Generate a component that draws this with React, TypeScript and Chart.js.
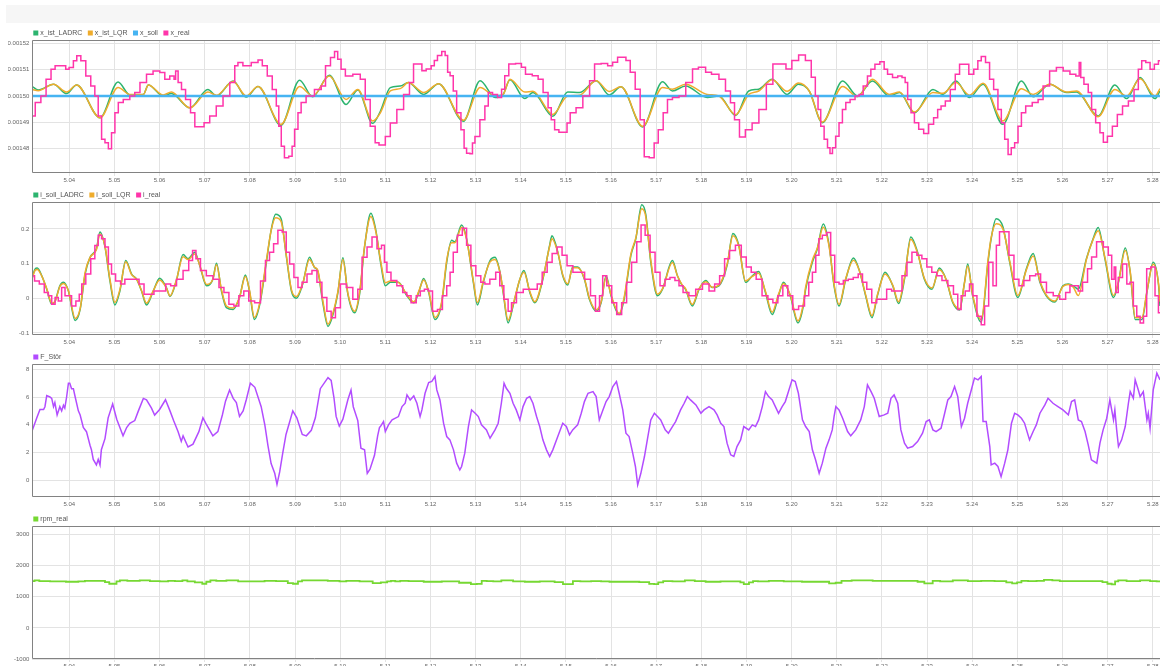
import { useEffect, useRef } from 'react';
import { Chart, registerables } from 'chart.js';

Chart.register(...registerables);

const FONT = '"Liberation Sans", Arial, Helvetica, sans-serif';
Chart.defaults.font.family = FONT;

// Time window shown on every panel (seconds)
const tStart = 5.0318;
const tEnd = 5.2816;

// Axis tick values
const timeTicks = [5.04, 5.05, 5.06, 5.07, 5.08, 5.09, 5.1, 5.11, 5.12, 5.13, 5.14, 5.15, 5.16, 5.17, 5.18, 5.19, 5.2, 5.21, 5.22, 5.23, 5.24, 5.25, 5.26, 5.27, 5.28];
const posTicks = [0.00148, 0.00149, 0.0015, 0.00151, 0.00152];
const currentTicks = [-0.1, 0, 0.1, 0.2];
const forceTicks = [0, 2, 4, 6, 8];
const rpmTicks = [-1000, 0, 1000, 2000, 3000];

// [t, x_ist_LADRC, x_ist_LQR]
const xIst: [number, number, number][] = [
  [5.0318, 0.0015036, 0.0015025], [5.0331, 0.0015023, 0.0015020], [5.0365, 0.0015045, 0.0015045], [5.0394, 0.0015009, 0.0015015],
  [5.0416, 0.0015042, 0.0015042], [5.0468, 0.0014917, 0.0014917], [5.0508, 0.0015053, 0.0015032], [5.0534, 0.0015004, 0.0015006],
  [5.0564, 0.0015006, 0.0015006], [5.0575, 0.0015042, 0.0015042], [5.0608, 0.0015000, 0.0015004], [5.0626, 0.0015009, 0.0015015],
  [5.0667, 0.0014955, 0.0014955], [5.0707, 0.0015025, 0.0015015], [5.0726, 0.0015000, 0.0015003], [5.0763, 0.0015057, 0.0015055],
  [5.0792, 0.0014996, 0.0015000], [5.0818, 0.0015036, 0.0015036], [5.0869, 0.0014888, 0.0014892], [5.0910, 0.0015060, 0.0015036],
  [5.0939, 0.0014997, 0.0015000], [5.0976, 0.0015079, 0.0015076], [5.1013, 0.0014968, 0.0014987], [5.1039, 0.0015023, 0.0015025],
  [5.1072, 0.0014896, 0.0014905], [5.1089, 0.0014942, 0.0014936], [5.1111, 0.0015032, 0.0015019], [5.1133, 0.0015038, 0.0015028],
  [5.1151, 0.0015051, 0.0015051], [5.1185, 0.0015006, 0.0015013], [5.1218, 0.0015047, 0.0015047], [5.1273, 0.0014904, 0.0014908],
  [5.1310, 0.0015058, 0.0015032], [5.1343, 0.0014994, 0.0015000], [5.1361, 0.0015006, 0.0015006], [5.1376, 0.0015062, 0.0015064],
  [5.1409, 0.0014990, 0.0015015], [5.1427, 0.0015013, 0.0015018], [5.1471, 0.0014923, 0.0014930], [5.1504, 0.0015015, 0.0015000],
  [5.1530, 0.0015013, 0.0015003], [5.1567, 0.0015058, 0.0015058], [5.1596, 0.0015004, 0.0015017], [5.1622, 0.0015035, 0.0015035],
  [5.1670, 0.0014882, 0.0014885], [5.1714, 0.0015054, 0.0015032], [5.1736, 0.0015019, 0.0015026], [5.1765, 0.0015038, 0.0015045],
  [5.1813, 0.0014994, 0.0015006], [5.1839, 0.0015000, 0.0015000], [5.1876, 0.0014926, 0.0014929], [5.1905, 0.0015019, 0.0015006],
  [5.1927, 0.0015026, 0.0015019], [5.1957, 0.0015064, 0.0015062], [5.1990, 0.0015006, 0.0015018], [5.2015, 0.0015045, 0.0015049],
  [5.2039, 0.0015019, 0.0015019], [5.2068, 0.0014898, 0.0014901], [5.2113, 0.0015057, 0.0015036], [5.2146, 0.0015000, 0.0014997],
  [5.2179, 0.0015057, 0.0015064], [5.2216, 0.0015000, 0.0015006], [5.2239, 0.0015013, 0.0015015], [5.2272, 0.0014936, 0.0014939],
  [5.2313, 0.0015025, 0.0015013], [5.2335, 0.0015006, 0.0015010], [5.2364, 0.0015057, 0.0015051], [5.2394, 0.0014994, 0.0015003],
  [5.2424, 0.0015045, 0.0015048], [5.2468, 0.0014892, 0.0014905], [5.2509, 0.0015057, 0.0015028], [5.2535, 0.0014997, 0.0015006],
  [5.2572, 0.0015045, 0.0015045], [5.2609, 0.0015013, 0.0015015], [5.2631, 0.0015015, 0.0015019], [5.2679, 0.0014924, 0.0014921],
  [5.2716, 0.0015042, 0.0015025], [5.2742, 0.0014990, 0.0015000], [5.2772, 0.0015070, 0.0015066], [5.2805, 0.0014990, 0.0015000],
  [5.2816, 0.0015019, 0.0015028],
];

const xSoll: [number, number][] = [[5.0318, 0.0015], [5.2816, 0.0015]];

const xReal: [number, number][] = [
  [5.0318, 0.0014924], [5.0331, 0.0014975], [5.0343, 0.0015000], [5.0354, 0.0015064], [5.0365, 0.0015102], [5.0372, 0.0015115],
  [5.0390, 0.0015115], [5.0394, 0.0015102], [5.0405, 0.0015108], [5.0413, 0.0015134], [5.0420, 0.0015153], [5.0431, 0.0015134],
  [5.0442, 0.0015076], [5.0453, 0.0015038], [5.0460, 0.0015000], [5.0468, 0.0014924], [5.0475, 0.0014835], [5.0483, 0.0014822],
  [5.0490, 0.0014799], [5.0497, 0.0014860], [5.0505, 0.0014936], [5.0512, 0.0014975], [5.0527, 0.0014987], [5.0541, 0.0015000],
  [5.0549, 0.0015013], [5.0564, 0.0015051], [5.0578, 0.0015083], [5.0593, 0.0015095], [5.0608, 0.0015089], [5.0615, 0.0015064],
  [5.0630, 0.0015076], [5.0634, 0.0015064], [5.0637, 0.0015095], [5.0645, 0.0015051], [5.0652, 0.0015025], [5.0663, 0.0014987],
  [5.0674, 0.0014936], [5.0682, 0.0014883], [5.0693, 0.0014883], [5.0704, 0.0014898], [5.0718, 0.0014924], [5.0733, 0.0014962],
  [5.0748, 0.0015000], [5.0763, 0.0015051], [5.0770, 0.0015115], [5.0777, 0.0015127], [5.0792, 0.0015115], [5.0814, 0.0015127],
  [5.0822, 0.0015137], [5.0833, 0.0015115], [5.0844, 0.0015076], [5.0855, 0.0015025], [5.0862, 0.0014962], [5.0866, 0.0014885],
  [5.0873, 0.0014809], [5.0880, 0.0014765], [5.0892, 0.0014771], [5.0895, 0.0014809], [5.0903, 0.0014873], [5.0910, 0.0014936],
  [5.0917, 0.0014975], [5.0932, 0.0015000], [5.0954, 0.0015025], [5.0962, 0.0015038], [5.0973, 0.0015115], [5.0984, 0.0015146],
  [5.0991, 0.0015169], [5.0998, 0.0015140], [5.1006, 0.0015102], [5.1017, 0.0015076], [5.1039, 0.0015083], [5.1050, 0.0015064],
  [5.1061, 0.0014987], [5.1072, 0.0014885], [5.1083, 0.0014822], [5.1089, 0.0014814], [5.1096, 0.0014814], [5.1104, 0.0014846],
  [5.1118, 0.0014897], [5.1133, 0.0014949], [5.1148, 0.0015006], [5.1159, 0.0015051], [5.1166, 0.0015122], [5.1177, 0.0015122],
  [5.1185, 0.0015096], [5.1196, 0.0015103], [5.1207, 0.0015115], [5.1210, 0.0015135], [5.1221, 0.0015154], [5.1229, 0.0015169],
  [5.1236, 0.0015154], [5.1240, 0.0015090], [5.1247, 0.0015077], [5.1254, 0.0015019], [5.1262, 0.0014936], [5.1273, 0.0014872],
  [5.1276, 0.0014801], [5.1284, 0.0014782], [5.1291, 0.0014780], [5.1295, 0.0014821], [5.1302, 0.0014846], [5.1317, 0.0014910],
  [5.1324, 0.0014962], [5.1332, 0.0015013], [5.1343, 0.0015006], [5.1354, 0.0014994], [5.1361, 0.0015026], [5.1368, 0.0015077],
  [5.1379, 0.0015122], [5.1398, 0.0015124], [5.1405, 0.0015109], [5.1416, 0.0015083], [5.1435, 0.0015077], [5.1442, 0.0015064],
  [5.1457, 0.0015013], [5.1464, 0.0014955], [5.1471, 0.0014910], [5.1479, 0.0014872], [5.1490, 0.0014862], [5.1501, 0.0014862],
  [5.1504, 0.0014897], [5.1515, 0.0014936], [5.1530, 0.0014955], [5.1545, 0.0015000], [5.1560, 0.0015058], [5.1567, 0.0015122],
  [5.1589, 0.0015124], [5.1596, 0.0015115], [5.1611, 0.0015128], [5.1618, 0.0015147], [5.1629, 0.0015147], [5.1637, 0.0015135],
  [5.1648, 0.0015090], [5.1659, 0.0015026], [5.1670, 0.0014910], [5.1677, 0.0014769], [5.1692, 0.0014765], [5.1699, 0.0014821],
  [5.1710, 0.0014872], [5.1721, 0.0014936], [5.1729, 0.0014987], [5.1743, 0.0014994], [5.1758, 0.0015000], [5.1773, 0.0015051],
  [5.1788, 0.0015103], [5.1799, 0.0015109], [5.1806, 0.0015109], [5.1813, 0.0015090], [5.1832, 0.0015083], [5.1846, 0.0015064],
  [5.1861, 0.0015019], [5.1868, 0.0014974], [5.1879, 0.0014910], [5.1890, 0.0014844], [5.1905, 0.0014872], [5.1920, 0.0014897],
  [5.1935, 0.0014949], [5.1953, 0.0015045], [5.1964, 0.0015122], [5.1982, 0.0015122], [5.1993, 0.0015103], [5.2008, 0.0015135],
  [5.2023, 0.0015156], [5.2038, 0.0015135], [5.2049, 0.0015071], [5.2056, 0.0015000], [5.2061, 0.0014949], [5.2068, 0.0014885],
  [5.2076, 0.0014835], [5.2083, 0.0014803], [5.2087, 0.0014781], [5.2094, 0.0014803], [5.2101, 0.0014847], [5.2109, 0.0014898],
  [5.2116, 0.0014949], [5.2124, 0.0014975], [5.2135, 0.0014987], [5.2146, 0.0015000], [5.2153, 0.0015006], [5.2164, 0.0015038],
  [5.2172, 0.0015076], [5.2179, 0.0015102], [5.2190, 0.0015121], [5.2201, 0.0015130], [5.2209, 0.0015102], [5.2216, 0.0015083],
  [5.2231, 0.0015070], [5.2239, 0.0015076], [5.2250, 0.0015070], [5.2253, 0.0015051], [5.2261, 0.0014987], [5.2268, 0.0014936],
  [5.2276, 0.0014898], [5.2287, 0.0014873], [5.2298, 0.0014857], [5.2309, 0.0014892], [5.2320, 0.0014917], [5.2327, 0.0014949],
  [5.2335, 0.0014962], [5.2346, 0.0014981], [5.2357, 0.0015025], [5.2368, 0.0015083], [5.2376, 0.0015121], [5.2387, 0.0015121],
  [5.2398, 0.0015083], [5.2409, 0.0015102], [5.2416, 0.0015134], [5.2424, 0.0015150], [5.2435, 0.0015127], [5.2442, 0.0015064],
  [5.2453, 0.0015025], [5.2461, 0.0014949], [5.2468, 0.0014898], [5.2476, 0.0014835], [5.2483, 0.0014777], [5.2490, 0.0014803],
  [5.2498, 0.0014822], [5.2505, 0.0014885], [5.2513, 0.0014936], [5.2524, 0.0014962], [5.2542, 0.0014975], [5.2550, 0.0014987],
  [5.2564, 0.0015038], [5.2579, 0.0015095], [5.2594, 0.0015108], [5.2609, 0.0015095], [5.2624, 0.0015083], [5.2635, 0.0015076],
  [5.2639, 0.0015127], [5.2642, 0.0015070], [5.2653, 0.0015045], [5.2661, 0.0015013], [5.2668, 0.0014949], [5.2679, 0.0014898],
  [5.2687, 0.0014860], [5.2694, 0.0014824], [5.2705, 0.0014847], [5.2716, 0.0014885], [5.2727, 0.0014930], [5.2739, 0.0014962],
  [5.2753, 0.0014981], [5.2764, 0.0015025], [5.2772, 0.0015102], [5.2779, 0.0015134], [5.2790, 0.0015127], [5.2798, 0.0015102],
  [5.2809, 0.0015121], [5.2816, 0.0015134],
];

// [t, i_soll_LADRC, i_soll_LQR]
const iSoll: [number, number, number][] = [
  [5.0318, 0.060, 0.058], [5.0324, 0.084, 0.080], [5.0329, 0.087, 0.083], [5.0339, 0.065, 0.064], [5.0350, 0.026, 0.028],
  [5.0361, -0.017, -0.014], [5.0368, -0.010, -0.010], [5.0379, 0.036, 0.034], [5.0387, 0.046, 0.043], [5.0398, 0.021, 0.022],
  [5.0413, -0.064, -0.058], [5.0424, -0.032, -0.030], [5.0435, 0.070, 0.075], [5.0446, 0.118, 0.118], [5.0460, 0.143, 0.140],
  [5.0468, 0.191, 0.185], [5.0479, 0.148, 0.150], [5.0490, 0.050, 0.055], [5.0501, -0.019, -0.012], [5.0512, 0.021, 0.025],
  [5.0525, 0.109, 0.105], [5.0538, 0.070, 0.068], [5.0549, 0.055, 0.055], [5.0560, 0.021, 0.022], [5.0571, -0.019, -0.014],
  [5.0586, 0.021, 0.022], [5.0600, 0.058, 0.053], [5.0615, 0.031, 0.030], [5.0623, 0.005, 0.007], [5.0637, 0.050, 0.052],
  [5.0652, 0.126, 0.120], [5.0663, 0.114, 0.112], [5.0678, 0.133, 0.128], [5.0689, 0.094, 0.095], [5.0704, 0.036, 0.040],
  [5.0718, 0.055, 0.055], [5.0726, 0.101, 0.097], [5.0737, 0.021, 0.025], [5.0748, -0.027, -0.022], [5.0763, -0.032, -0.028],
  [5.0777, 0.002, 0.003], [5.0790, 0.067, 0.063], [5.0799, 0.021, 0.024], [5.0810, -0.061, -0.055], [5.0822, -0.017, -0.012],
  [5.0836, 0.099, 0.105], [5.0847, 0.196, 0.195], [5.0857, 0.242, 0.232], [5.0869, 0.230, 0.222], [5.0880, 0.128, 0.130],
  [5.0892, 0.021, 0.025], [5.0903, 0.000, 0.005], [5.0917, 0.041, 0.043], [5.0932, 0.118, 0.112], [5.0943, 0.089, 0.090],
  [5.0950, 0.080, 0.082], [5.0962, -0.017, -0.010], [5.0973, -0.081, -0.075], [5.0984, -0.047, -0.042], [5.0995, 0.017, 0.020],
  [5.1006, 0.117, 0.112], [5.1017, 0.012, 0.015], [5.1032, -0.042, -0.037], [5.1043, 0.012, 0.018], [5.1054, 0.148, 0.150],
  [5.1068, 0.245, 0.236], [5.1079, 0.196, 0.192], [5.1090, 0.099, 0.105], [5.1100, 0.036, 0.045], [5.1111, 0.046, 0.050],
  [5.1129, 0.046, 0.046], [5.1148, 0.007, 0.010], [5.1163, -0.013, -0.010], [5.1174, 0.017, 0.020], [5.1185, 0.057, 0.053],
  [5.1196, 0.017, 0.020], [5.1210, -0.061, -0.055], [5.1225, -0.013, -0.008], [5.1236, 0.104, 0.110], [5.1247, 0.167, 0.160],
  [5.1254, 0.163, 0.160], [5.1269, 0.211, 0.205], [5.1280, 0.172, 0.170], [5.1295, 0.046, 0.050], [5.1304, -0.019, -0.012],
  [5.1317, 0.046, 0.050], [5.1332, 0.109, 0.105], [5.1343, 0.118, 0.112], [5.1354, 0.075, 0.075], [5.1361, 0.017, 0.020],
  [5.1372, -0.071, -0.063], [5.1383, -0.022, -0.018], [5.1398, 0.055, 0.055], [5.1407, 0.080, 0.075], [5.1420, 0.017, 0.020],
  [5.1431, -0.013, -0.010], [5.1449, 0.055, 0.058], [5.1464, 0.153, 0.150], [5.1469, 0.180, 0.172], [5.1482, 0.133, 0.133],
  [5.1493, 0.065, 0.068], [5.1504, 0.038, 0.042], [5.1515, 0.090, 0.088], [5.1526, 0.090, 0.088], [5.1541, 0.055, 0.057],
  [5.1552, -0.003, 0.000], [5.1567, -0.037, -0.033], [5.1578, -0.013, -0.010], [5.1589, 0.065, 0.060], [5.1600, 0.007, 0.010],
  [5.1618, -0.047, -0.043], [5.1629, -0.003, 0.003], [5.1644, 0.124, 0.128], [5.1655, 0.172, 0.175], [5.1668, 0.270, 0.258],
  [5.1677, 0.241, 0.235], [5.1688, 0.104, 0.110], [5.1703, 0.007, 0.012], [5.1714, 0.026, 0.028], [5.1736, 0.109, 0.103],
  [5.1747, 0.065, 0.065], [5.1758, 0.036, 0.038], [5.1765, 0.026, 0.028], [5.1780, -0.022, -0.018], [5.1795, 0.026, 0.028],
  [5.1810, 0.051, 0.048], [5.1824, 0.031, 0.032], [5.1839, 0.036, 0.038], [5.1857, 0.094, 0.098], [5.1870, 0.187, 0.180],
  [5.1883, 0.153, 0.150], [5.1898, 0.046, 0.050], [5.1913, 0.065, 0.063], [5.1927, 0.077, 0.072], [5.1942, 0.017, 0.020],
  [5.1957, -0.047, -0.040], [5.1971, 0.007, 0.012], [5.1982, 0.046, 0.043], [5.1997, 0.007, 0.010], [5.2014, -0.071, -0.065],
  [5.2026, -0.022, -0.015], [5.2031, 0.026, 0.032], [5.2046, 0.104, 0.110], [5.2057, 0.143, 0.145], [5.2070, 0.214, 0.205],
  [5.2083, 0.153, 0.150], [5.2094, 0.036, 0.040], [5.2105, -0.022, -0.018], [5.2120, 0.055, 0.058], [5.2137, 0.116, 0.110],
  [5.2150, 0.080, 0.080], [5.2164, 0.007, 0.010], [5.2178, -0.056, -0.050], [5.2190, 0.007, 0.010], [5.2207, 0.075, 0.070],
  [5.2224, 0.036, 0.038], [5.2237, -0.015, -0.010], [5.2250, 0.055, 0.060], [5.2264, 0.177, 0.170], [5.2279, 0.133, 0.130],
  [5.2294, 0.055, 0.058], [5.2311, 0.026, 0.030], [5.2327, 0.087, 0.082], [5.2342, 0.055, 0.055], [5.2357, -0.013, -0.010],
  [5.2372, -0.034, -0.030], [5.2383, 0.046, 0.045], [5.2390, 0.099, 0.093], [5.2401, 0.007, 0.010], [5.2420, -0.069, -0.062],
  [5.2435, 0.104, 0.110], [5.2442, 0.172, 0.175], [5.2453, 0.229, 0.215], [5.2468, 0.206, 0.200], [5.2483, 0.104, 0.108],
  [5.2501, 0.002, 0.008], [5.2520, 0.085, 0.082], [5.2535, 0.129, 0.122], [5.2550, 0.046, 0.050], [5.2564, 0.007, 0.010],
  [5.2583, -0.011, -0.008], [5.2601, 0.036, 0.034], [5.2613, 0.041, 0.040], [5.2624, 0.036, 0.032], [5.2635, 0.026, 0.008],
  [5.2653, 0.114, 0.112], [5.2668, 0.172, 0.170], [5.2679, 0.204, 0.195], [5.2694, 0.114, 0.118], [5.2713, 0.002, 0.008],
  [5.2724, 0.046, 0.048], [5.2739, 0.145, 0.138], [5.2750, 0.075, 0.078], [5.2761, -0.061, -0.055], [5.2776, -0.061, -0.055],
  [5.2787, 0.017, 0.020], [5.2801, 0.104, 0.098], [5.2813, 0.036, 0.040], [5.2816, -0.022, -0.010],
];

const iReal: [number, number][] = [
  [5.0318, 0.065], [5.0328, 0.050], [5.0339, 0.041], [5.0350, 0.017], [5.0357, 0.007], [5.0365, -0.017], [5.0372, 0.002],
  [5.0379, -0.008], [5.0387, 0.031], [5.0394, 0.007], [5.0401, 0.007], [5.0409, -0.022], [5.0420, -0.008], [5.0424, 0.012],
  [5.0431, 0.041], [5.0442, 0.070], [5.0453, 0.114], [5.0460, 0.152], [5.0468, 0.182], [5.0475, 0.172], [5.0483, 0.148],
  [5.0490, 0.099], [5.0497, 0.070], [5.0508, 0.050], [5.0519, 0.041], [5.0527, 0.055], [5.0549, 0.055], [5.0560, 0.041],
  [5.0571, 0.012], [5.0582, 0.012], [5.0593, 0.021], [5.0608, 0.021], [5.0619, 0.041], [5.0630, 0.036], [5.0645, 0.055],
  [5.0659, 0.080], [5.0670, 0.109], [5.0676, 0.138], [5.0685, 0.114], [5.0696, 0.080], [5.0711, 0.065], [5.0726, 0.055],
  [5.0737, 0.031], [5.0748, 0.017], [5.0759, -0.017], [5.0770, -0.022], [5.0781, 0.007], [5.0792, 0.021], [5.0803, -0.008],
  [5.0818, -0.013], [5.0829, 0.050], [5.0840, 0.109], [5.0847, 0.133], [5.0858, 0.157], [5.0866, 0.196], [5.0877, 0.191],
  [5.0884, 0.133], [5.0892, 0.099], [5.0903, 0.060], [5.0910, 0.031], [5.0921, 0.046], [5.0932, 0.070], [5.0943, 0.080],
  [5.0954, 0.046], [5.0965, 0.002], [5.0976, -0.037], [5.0984, -0.056], [5.0995, -0.027], [5.1006, 0.041], [5.1021, 0.031],
  [5.1035, -0.003], [5.1043, 0.026], [5.1054, 0.118], [5.1065, 0.148], [5.1076, 0.177], [5.1087, 0.143], [5.1096, 0.153],
  [5.1100, 0.104], [5.1107, 0.075], [5.1118, 0.051], [5.1133, 0.036], [5.1144, 0.017], [5.1151, 0.007], [5.1163, -0.013],
  [5.1174, 0.007], [5.1181, 0.021], [5.1192, 0.026], [5.1199, 0.021], [5.1210, -0.037], [5.1221, -0.032], [5.1232, 0.007],
  [5.1240, 0.036], [5.1247, 0.075], [5.1254, 0.133], [5.1265, 0.182], [5.1276, 0.202], [5.1284, 0.153], [5.1295, 0.094],
  [5.1306, 0.065], [5.1317, 0.046], [5.1324, 0.041], [5.1339, 0.055], [5.1350, 0.075], [5.1357, 0.036], [5.1368, -0.003],
  [5.1376, -0.037], [5.1383, -0.013], [5.1398, 0.017], [5.1413, 0.026], [5.1431, 0.026], [5.1442, 0.041], [5.1453, 0.075],
  [5.1464, 0.104], [5.1475, 0.129], [5.1486, 0.148], [5.1497, 0.124], [5.1508, 0.094], [5.1523, 0.075], [5.1534, 0.075],
  [5.1549, 0.055], [5.1560, 0.007], [5.1571, -0.037], [5.1578, 0.007], [5.1585, 0.065], [5.1596, 0.036], [5.1607, -0.013],
  [5.1618, -0.047], [5.1629, -0.013], [5.1640, 0.046], [5.1651, 0.104], [5.1663, 0.163], [5.1670, 0.211], [5.1681, 0.182],
  [5.1692, 0.133], [5.1703, 0.075], [5.1714, 0.036], [5.1725, 0.055], [5.1736, 0.060], [5.1747, 0.051], [5.1754, 0.036],
  [5.1765, 0.017], [5.1780, 0.007], [5.1795, 0.026], [5.1810, 0.041], [5.1824, 0.021], [5.1835, 0.041], [5.1846, 0.065],
  [5.1857, 0.114], [5.1868, 0.138], [5.1883, 0.153], [5.1894, 0.119], [5.1905, 0.090], [5.1916, 0.075], [5.1927, 0.055],
  [5.1942, 0.007], [5.1953, -0.003], [5.1964, -0.013], [5.1975, 0.007], [5.1986, 0.036], [5.1997, 0.007], [5.2008, -0.032],
  [5.2023, -0.022], [5.2034, 0.007], [5.2042, 0.046], [5.2050, 0.075], [5.2057, 0.124], [5.2064, 0.172], [5.2072, 0.182],
  [5.2083, 0.190], [5.2090, 0.124], [5.2101, 0.046], [5.2109, 0.041], [5.2120, 0.051], [5.2131, 0.055], [5.2142, 0.060],
  [5.2153, 0.070], [5.2161, 0.046], [5.2172, 0.026], [5.2183, -0.013], [5.2194, -0.003], [5.2205, -0.003], [5.2216, 0.026],
  [5.2227, 0.021], [5.2239, 0.021], [5.2250, 0.065], [5.2261, 0.104], [5.2272, 0.133], [5.2283, 0.124], [5.2294, 0.114],
  [5.2305, 0.090], [5.2316, 0.075], [5.2327, 0.065], [5.2339, 0.051], [5.2353, 0.036], [5.2364, 0.012], [5.2372, -0.032],
  [5.2379, 0.007], [5.2390, 0.021], [5.2398, 0.041], [5.2405, 0.007], [5.2416, -0.052], [5.2424, -0.076], [5.2431, -0.022],
  [5.2442, 0.104], [5.2450, 0.036], [5.2457, 0.153], [5.2464, 0.192], [5.2476, 0.192], [5.2487, 0.124], [5.2498, 0.055],
  [5.2509, 0.036], [5.2520, 0.051], [5.2535, 0.065], [5.2546, 0.070], [5.2557, 0.046], [5.2572, 0.017], [5.2587, 0.007],
  [5.2601, -0.003], [5.2613, 0.017], [5.2620, 0.036], [5.2631, 0.036], [5.2639, 0.021], [5.2650, 0.046], [5.2661, 0.085],
  [5.2668, 0.119], [5.2683, 0.163], [5.2698, 0.148], [5.2705, 0.124], [5.2713, 0.055], [5.2716, 0.090], [5.2720, 0.017],
  [5.2727, 0.060], [5.2739, 0.099], [5.2746, 0.041], [5.2753, 0.046], [5.2761, -0.022], [5.2768, -0.052], [5.2776, -0.071],
  [5.2783, -0.052], [5.2790, 0.085], [5.2801, 0.090], [5.2809, 0.007], [5.2816, -0.042],
];

const fStoer: [number, number][] = [
  [5.0318, 3.6], [5.0328, 4.5], [5.0335, 5.1], [5.0343, 5.1], [5.0346, 5.3], [5.0350, 6.1], [5.0357, 6.0], [5.0361, 5.9],
  [5.0365, 5.3], [5.0368, 5.6], [5.0373, 4.7], [5.0379, 5.3], [5.0383, 5.0], [5.0387, 5.4], [5.0390, 5.2], [5.0394, 6.0],
  [5.0398, 7.0], [5.0401, 7.0], [5.0405, 6.6], [5.0409, 6.6], [5.0413, 6.0], [5.0420, 5.0], [5.0424, 4.7], [5.0431, 3.8],
  [5.0438, 3.5], [5.0446, 2.5], [5.0449, 2.2], [5.0453, 1.5], [5.0460, 1.1], [5.0464, 1.5], [5.0468, 1.1], [5.0471, 2.2],
  [5.0479, 3.0], [5.0486, 4.5], [5.0496, 5.5], [5.0505, 4.4], [5.0512, 3.8], [5.0519, 3.2], [5.0527, 3.8], [5.0534, 4.1],
  [5.0545, 4.3], [5.0553, 5.0], [5.0564, 5.9], [5.0571, 5.8], [5.0582, 5.2], [5.0589, 4.7], [5.0600, 5.1], [5.0613, 5.8],
  [5.0623, 5.0], [5.0631, 4.3], [5.0641, 3.5], [5.0648, 2.8], [5.0652, 3.2], [5.0663, 2.4], [5.0674, 2.6], [5.0687, 3.5],
  [5.0696, 4.5], [5.0704, 4.0], [5.0718, 3.2], [5.0729, 3.5], [5.0739, 4.7], [5.0746, 5.7], [5.0755, 6.5], [5.0763, 5.9],
  [5.0770, 5.6], [5.0777, 4.6], [5.0785, 5.0], [5.0792, 5.8], [5.0801, 7.0], [5.0811, 6.7], [5.0825, 5.3], [5.0833, 4.0],
  [5.0840, 2.5], [5.0847, 1.2], [5.0855, 0.5], [5.0860, -0.3], [5.0866, 0.6], [5.0873, 2.0], [5.0880, 3.3], [5.0888, 4.2],
  [5.0895, 5.0], [5.0904, 4.5], [5.0916, 3.3], [5.0925, 3.2], [5.0936, 3.6], [5.0945, 4.5], [5.0956, 6.6], [5.0973, 7.4],
  [5.0980, 7.2], [5.0986, 6.0], [5.0991, 4.6], [5.0998, 3.9], [5.1006, 4.4], [5.1017, 5.8], [5.1024, 6.5], [5.1029, 5.3],
  [5.1039, 4.3], [5.1046, 2.3], [5.1054, 2.2], [5.1060, 0.5], [5.1066, 0.8], [5.1076, 1.8], [5.1083, 3.2], [5.1087, 3.8],
  [5.1089, 3.87], [5.1096, 4.23], [5.1100, 3.51], [5.1107, 3.99], [5.1115, 4.35], [5.1129, 4.59], [5.1137, 5.31],
  [5.1144, 5.55], [5.1148, 6.15], [5.1155, 5.79], [5.1163, 6.08], [5.1170, 5.55], [5.1177, 4.59], [5.1181, 5.07],
  [5.1188, 6.27], [5.1196, 7.04], [5.1203, 7.12], [5.1210, 7.48], [5.1214, 6.51], [5.1221, 5.79], [5.1229, 4.11],
  [5.1236, 3.15], [5.1243, 2.91], [5.1251, 2.19], [5.1258, 1.23], [5.1265, 0.75], [5.1269, 0.99], [5.1276, 1.95],
  [5.1284, 3.87], [5.1291, 5.07], [5.1299, 4.83], [5.1306, 4.59], [5.1313, 3.99], [5.1324, 3.63], [5.1332, 3.03],
  [5.1343, 3.63], [5.1350, 4.11], [5.1357, 5.55], [5.1363, 7.00], [5.1368, 6.63], [5.1376, 6.27], [5.1383, 5.55],
  [5.1390, 5.07], [5.1398, 4.35], [5.1405, 5.31], [5.1413, 5.91], [5.1420, 6.03], [5.1427, 5.55], [5.1435, 4.59],
  [5.1442, 3.87], [5.1449, 2.91], [5.1457, 2.19], [5.1464, 1.71], [5.1471, 2.19], [5.1482, 3.15], [5.1493, 4.11],
  [5.1501, 3.87], [5.1508, 3.27], [5.1515, 3.63], [5.1526, 3.99], [5.1534, 4.83], [5.1541, 5.67], [5.1549, 6.27],
  [5.1560, 6.39], [5.1567, 6.03], [5.1574, 4.35], [5.1582, 5.07], [5.1589, 5.67], [5.1596, 6.03], [5.1604, 6.75],
  [5.1612, 7.12], [5.1618, 6.27], [5.1626, 5.07], [5.1633, 3.39], [5.1640, 3.15], [5.1648, 1.95], [5.1654, 0.99],
  [5.1659, -0.34], [5.1666, 0.50], [5.1674, 1.71], [5.1681, 3.03], [5.1688, 4.35], [5.1696, 4.83], [5.1703, 4.59],
  [5.1710, 4.35], [5.1720, 3.63], [5.1727, 3.39], [5.1736, 3.87], [5.1743, 4.23], [5.1754, 5.07], [5.1762, 5.55],
  [5.1769, 6.03], [5.1776, 5.79], [5.1788, 5.43], [5.1799, 4.83], [5.1806, 5.07], [5.1817, 5.31], [5.1828, 5.07],
  [5.1835, 4.71], [5.1843, 4.11], [5.1850, 3.87], [5.1857, 2.67], [5.1865, 1.83], [5.1872, 1.71], [5.1879, 2.43],
  [5.1887, 2.91], [5.1894, 3.87], [5.1905, 3.63], [5.1913, 3.99], [5.1920, 3.87], [5.1927, 4.35], [5.1935, 5.31],
  [5.1942, 6.39], [5.1949, 6.03], [5.1957, 5.79], [5.1964, 5.31], [5.1971, 4.83], [5.1979, 5.31], [5.1986, 5.67],
  [5.1993, 6.39], [5.2001, 7.24], [5.2008, 7.12], [5.2015, 6.27], [5.2024, 4.35], [5.2031, 3.87], [5.2039, 3.51],
  [5.2046, 2.19], [5.2053, 1.47], [5.2057, 0.99], [5.2061, 0.50], [5.2068, 1.23], [5.2076, 2.31], [5.2083, 2.91],
  [5.2090, 3.63], [5.2094, 4.59], [5.2098, 5.31], [5.2105, 5.07], [5.2113, 4.47], [5.2124, 3.51], [5.2131, 3.20],
  [5.2142, 3.63], [5.2153, 4.35], [5.2161, 5.31], [5.2168, 6.88], [5.2176, 6.39], [5.2183, 5.91], [5.2194, 4.59],
  [5.2205, 4.71], [5.2213, 4.83], [5.2220, 5.91], [5.2227, 6.15], [5.2235, 5.55], [5.2242, 3.63], [5.2250, 2.67],
  [5.2257, 2.31], [5.2268, 2.43], [5.2279, 2.79], [5.2290, 3.39], [5.2298, 4.23], [5.2305, 4.35], [5.2313, 3.63],
  [5.2320, 3.51], [5.2331, 3.75], [5.2339, 4.83], [5.2346, 5.79], [5.2353, 6.03], [5.2361, 6.75], [5.2368, 6.03],
  [5.2376, 3.87], [5.2383, 4.47], [5.2390, 5.55], [5.2398, 6.51], [5.2405, 7.36], [5.2413, 7.24], [5.2420, 7.48],
  [5.2424, 4.23], [5.2431, 4.23], [5.2439, 2.43], [5.2442, 1.11], [5.2450, 1.23], [5.2457, 0.99], [5.2464, 0.26],
  [5.2472, 1.23], [5.2479, 2.19], [5.2487, 4.11], [5.2494, 4.83], [5.2501, 4.71], [5.2509, 4.47], [5.2516, 4.11],
  [5.2527, 2.91], [5.2535, 3.51], [5.2542, 3.99], [5.2550, 4.83], [5.2561, 5.43], [5.2568, 5.91], [5.2579, 5.55],
  [5.2590, 5.31], [5.2601, 5.07], [5.2613, 4.71], [5.2620, 5.67], [5.2627, 5.79], [5.2635, 4.35], [5.2642, 4.23],
  [5.2650, 3.51], [5.2657, 2.55], [5.2664, 1.47], [5.2676, 1.23], [5.2683, 2.67], [5.2690, 3.63], [5.2698, 4.47],
  [5.2705, 5.79], [5.2713, 4.35], [5.2716, 5.07], [5.2720, 3.63], [5.2724, 2.43], [5.2731, 2.91], [5.2739, 3.87],
  [5.2746, 5.55], [5.2750, 6.39], [5.2757, 5.91], [5.2761, 7.24], [5.2768, 6.51], [5.2772, 6.03], [5.2779, 6.39],
  [5.2787, 4.35], [5.2790, 4.83], [5.2794, 3.75], [5.2801, 6.51], [5.2809, 7.72], [5.2816, 7.24],
];

const rpmReal: [number, number][] = [
  [5.0318, 1505], [5.0328, 1527], [5.0339, 1505], [5.0376, 1495], [5.0409, 1484], [5.0431, 1495], [5.0438, 1516],
  [5.0475, 1516], [5.0483, 1473], [5.0494, 1420], [5.0501, 1420], [5.0508, 1495], [5.0516, 1527], [5.0541, 1516],
  [5.0571, 1527], [5.0586, 1505], [5.0615, 1495], [5.0623, 1516], [5.0645, 1505], [5.0656, 1527], [5.0667, 1495],
  [5.0689, 1462], [5.0700, 1420], [5.0707, 1484], [5.0718, 1527], [5.0733, 1516], [5.0763, 1527], [5.0785, 1495],
  [5.0829, 1495], [5.0836, 1516], [5.0880, 1505], [5.0888, 1441], [5.0903, 1420], [5.0910, 1495], [5.0921, 1527],
  [5.0954, 1527], [5.0991, 1516], [5.1006, 1495], [5.1021, 1516], [5.1065, 1495], [5.1079, 1441], [5.1101, 1462],
  [5.1107, 1495], [5.1118, 1516], [5.1126, 1495], [5.1140, 1516], [5.1163, 1505], [5.1207, 1484], [5.1243, 1495],
  [5.1284, 1452], [5.1295, 1409], [5.1310, 1419], [5.1317, 1516], [5.1332, 1505], [5.1346, 1495], [5.1368, 1527],
  [5.1398, 1495], [5.1420, 1484], [5.1464, 1495], [5.1486, 1473], [5.1501, 1409], [5.1512, 1409], [5.1519, 1505],
  [5.1545, 1495], [5.1567, 1505], [5.1589, 1495], [5.1604, 1484], [5.1648, 1484], [5.1677, 1473], [5.1692, 1419],
  [5.1699, 1409], [5.1710, 1462], [5.1721, 1505], [5.1751, 1495], [5.1776, 1527], [5.1795, 1505], [5.1824, 1484],
  [5.1861, 1495], [5.1883, 1495], [5.1890, 1462], [5.1898, 1409], [5.1913, 1462], [5.1916, 1505], [5.1935, 1495],
  [5.1964, 1516], [5.2001, 1495], [5.2045, 1484], [5.2076, 1484], [5.2090, 1430], [5.2105, 1452], [5.2116, 1516],
  [5.2150, 1527], [5.2209, 1516], [5.2268, 1516], [5.2290, 1484], [5.2298, 1430], [5.2309, 1430], [5.2316, 1516],
  [5.2342, 1495], [5.2372, 1527], [5.2409, 1505], [5.2431, 1516], [5.2468, 1505], [5.2483, 1462], [5.2494, 1430],
  [5.2505, 1462], [5.2513, 1516], [5.2535, 1505], [5.2550, 1516], [5.2568, 1548], [5.2587, 1527], [5.2601, 1505],
  [5.2683, 1505], [5.2694, 1473], [5.2705, 1420], [5.2713, 1398], [5.2720, 1495], [5.2727, 1527], [5.2757, 1505],
  [5.2787, 1527], [5.2801, 1505], [5.2816, 1495],
];

const COLORS = {
  ladrc: '#2cb46f',
  lqr: '#efac2c',
  soll: '#46b4f2',
  real: '#ff35aa',
  force: '#b24cff',
  rpm: '#76d832',
};

type Pt = { x: number; y: number };
const toPts = (rows: number[][], col = 1): Pt[] => rows.map((r) => ({ x: r[0], y: r[col] }));

interface SeriesSpec {
  label: string;
  color: string;
  points: Pt[];
  width?: number;
  mode?: 'smooth' | 'step' | 'line';
  order: number;
}

interface PanelSpec {
  top: number;
  series: SeriesSpec[];
  yMin: number;
  yMax: number;
  yTicks: number[];
  yFormat: (v: number) => string;
}

// Frame (top / left / bottom rule) and the square-swatch key above each plot
const panelDecor = {
  id: 'panelDecor',
  afterDraw(chart: any) {
    const { ctx, chartArea: a } = chart;
    ctx.save();
    ctx.strokeStyle = '#828282';
    ctx.lineWidth = 1;
    const l = Math.round(a.left) + 0.5;
    const t = Math.round(a.top) + 0.5;
    const b = Math.round(a.bottom) - 0.5;
    const r = Math.round(a.right);
    ctx.beginPath();
    ctx.moveTo(r, t);
    ctx.lineTo(l, t);
    ctx.lineTo(l, b);
    ctx.lineTo(r, b);
    ctx.stroke();

    ctx.font = `7px ${FONT}`;
    ctx.textBaseline = 'middle';
    ctx.textAlign = 'left';
    let x = a.left + 1;
    const cy = a.top - 7;
    chart.data.datasets.forEach((ds: any) => {
      ctx.fillStyle = ds.borderColor;
      ctx.fillRect(x, cy - 2.5, 5, 5);
      x += 7;
      ctx.fillStyle = '#555';
      ctx.fillText(ds.label, x, cy + 0.5);
      x += ctx.measureText(ds.label).width + 5.5;
    });
    ctx.restore();
  },
};

function Panel({ spec }: { spec: PanelSpec }) {
  const ref = useRef<HTMLCanvasElement | null>(null);

  useEffect(() => {
    if (!ref.current) return;
    const datasets = spec.series.map((s) => ({
      label: s.label,
      data: s.points,
      borderColor: s.color,
      backgroundColor: s.color,
      borderWidth: s.width ?? 1.5,
      pointRadius: 0,
      fill: false,
      order: s.order,
      stepped: s.mode === 'step' ? 'middle' : false,
      cubicInterpolationMode: s.mode === 'smooth' ? 'monotone' : 'default',
      tension: 0,
    }));
    const tickFont = { size: 6, family: FONT };
    const chart = new Chart(ref.current, {
      type: 'line',
      data: { datasets } as any,
      options: {
        animation: false,
        responsive: false,
        devicePixelRatio: 1,
        layout: { padding: { top: 12, left: 0, right: 0, bottom: 0 } },
        plugins: { legend: { display: false }, tooltip: { enabled: false } },
        events: [],
        scales: {
          x: {
            type: 'linear',
            min: tStart,
            max: tEnd,
            afterBuildTicks: (s: any) => {
              s.ticks = timeTicks.map((value) => ({ value }));
            },
            afterFit: (s: any) => {
              s.height = 17;
              s.paddingLeft = 0;
              s.paddingRight = 0;
            },
            ticks: {
              autoSkip: false,
              maxRotation: 0,
              font: tickFont,
              color: '#666',
              padding: 1,
              callback: (v: any) => Number(v).toFixed(2),
            },
            grid: { color: '#e3e3e3', tickLength: 3 },
            border: { display: false },
          },
          y: {
            type: 'linear',
            min: spec.yMin,
            max: spec.yMax,
            afterBuildTicks: (s: any) => {
              s.ticks = spec.yTicks.map((value) => ({ value }));
            },
            afterFit: (s: any) => {
              s.width = 24.3;
              s.paddingTop = 0;
              s.paddingBottom = 0;
            },
            ticks: {
              autoSkip: false,
              font: tickFont,
              color: '#666',
              padding: 3,
              callback: (v: any) => spec.yFormat(Number(v)),
            },
            grid: { color: '#e3e3e3', drawTicks: false },
            border: { display: false },
          },
        },
      } as any,
      plugins: [panelDecor],
    });
    return () => chart.destroy();
  }, [spec]);

  return (
    <div style={{ position: 'absolute', left: 8, top: spec.top, width: 1152, height: 162 }}>
      <canvas ref={ref} width={1152} height={162} style={{ display: 'block', width: 1152, height: 162 }} />
    </div>
  );
}

const panels: PanelSpec[] = [
  {
    top: 28,
    yMin: 0.0014707,
    yMax: 0.0015213,
    yTicks: posTicks,
    yFormat: (v) => v.toFixed(5),
    series: [
      { label: 'x_ist_LADRC', color: COLORS.ladrc, points: toPts(xIst, 1), mode: 'smooth', order: 3 },
      { label: 'x_ist_LQR', color: COLORS.lqr, points: toPts(xIst, 2), mode: 'smooth', order: 2 },
      { label: 'x_soll', color: COLORS.soll, points: toPts(xSoll), mode: 'line', width: 2.5, order: 1 },
      { label: 'x_real', color: COLORS.real, points: toPts(xReal), mode: 'step', order: 0 },
    ],
  },
  {
    top: 190,
    yMin: -0.1058,
    yMax: 0.2776,
    yTicks: currentTicks,
    yFormat: (v) => String(Math.round(v * 100) / 100),
    series: [
      { label: 'i_soll_LADRC', color: COLORS.ladrc, points: toPts(iSoll, 1), mode: 'smooth', order: 2 },
      { label: 'i_soll_LQR', color: COLORS.lqr, points: toPts(iSoll, 2), mode: 'smooth', order: 1 },
      { label: 'i_real', color: COLORS.real, points: toPts(iReal), mode: 'step', order: 0 },
    ],
  },
  {
    top: 352,
    yMin: -1.21,
    yMax: 8.38,
    yTicks: forceTicks,
    yFormat: (v) => String(Math.round(v)),
    series: [{ label: 'F_Stör', color: COLORS.force, points: toPts(fStoer), mode: 'line', order: 0 }],
  },
  {
    top: 514,
    yMin: -1000,
    yMax: 3278,
    yTicks: rpmTicks,
    yFormat: (v) => String(Math.round(v)),
    series: [{ label: 'rpm_real', color: COLORS.rpm, points: toPts(rpmReal), mode: 'step', width: 1.8, order: 0 }],
  },
];

export default function App() {
  return (
    <div
      style={{
        position: 'fixed',
        left: 0,
        top: 0,
        width: '100vw',
        height: '100vh',
        overflow: 'hidden',
        background: '#fff',
      }}
    >
      <div style={{ position: 'absolute', left: 6, top: 5, width: 1160, height: 18, background: '#f6f6f6' }} />
      {panels.map((p, i) => (
        <Panel key={i} spec={p} />
      ))}
    </div>
  );
}
